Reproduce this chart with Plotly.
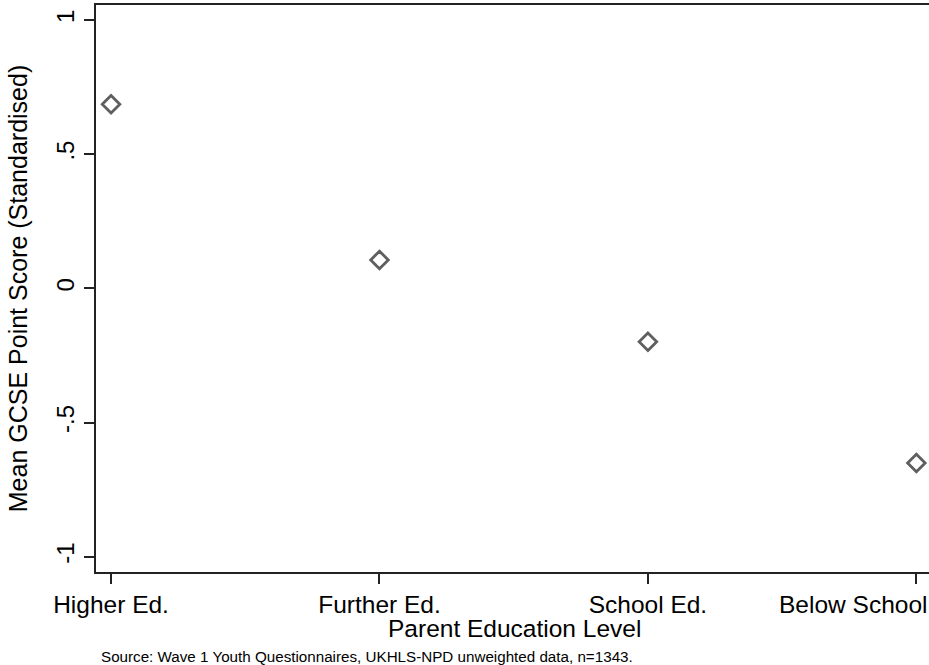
import plotly.graph_objects as go

# Parent education categories and mean standardised GCSE point scores
categories = ["Higher Ed.", "Further Ed.", "School Ed.", "Below School"]
positions = [1, 2, 3, 4]
mean_scores = [0.686, 0.106, -0.199, -0.651]

y_tickvals = [1, 0.5, 0, -0.5, -1]
y_ticktext = ["1", ".5", "0", "-.5", "-1"]

FONT = "Liberation Sans, Arial, sans-serif"
PLOT_W = 929 - 96
PLOT_H = 665 - 5 - 93

fig = go.Figure()
fig.add_trace(go.Scatter(
    x=positions,
    y=mean_scores,
    mode="markers",
    marker=dict(symbol="diamond-open", size=13.5, color="#5f5f5f",
                line=dict(width=2.8, color="#5f5f5f")),
    hoverinfo="x+y",
    showlegend=False,
))

# last category label sits flush with the right edge, so it is drawn as an annotation
tick_text_shown = categories[:-1] + [""]

fig.update_layout(
    width=929,
    height=665,
    margin=dict(l=96, r=0, t=5, b=93),
    paper_bgcolor="white",
    plot_bgcolor="white",
    font=dict(family=FONT, color="black", size=24),
    xaxis=dict(
        range=[0.944, 4.047],
        tickvals=positions,
        ticktext=tick_text_shown,
        ticks="outside",
        ticklen=10,
        tickwidth=1.5,
        tickcolor="#222",
        showgrid=False,
        zeroline=False,
        showline=True,
        linecolor="#222",
        linewidth=2,
        mirror=True,
        tickfont=dict(size=24.5),
    ),
    yaxis=dict(
        range=[-1.057, 1.056],
        tickvals=y_tickvals,
        ticktext=y_ticktext,
        tickangle=-90,
        ticks="outside",
        ticklen=10,
        tickwidth=1.5,
        tickcolor="#222",
        showgrid=False,
        zeroline=False,
        showline=True,
        linecolor="#222",
        linewidth=2,
        tickfont=dict(size=24),
        title=dict(text="Mean GCSE Point Score (Standardised)", font=dict(size=25), standoff=18),
    ),
    annotations=[
        dict(
            text=categories[-1],
            xref="paper", yref="paper",
            x=1.0, y=-(604 - 572) / PLOT_H,
            xanchor="right", yanchor="middle",
            showarrow=False,
            font=dict(size=24.5, color="black"),
        ),
        dict(
            text="Parent Education Level",
            xref="paper", yref="paper",
            x=(514 - 96) / PLOT_W, y=-(628 - 572) / PLOT_H,
            xanchor="center", yanchor="middle",
            showarrow=False,
            font=dict(size=24.5, color="black"),
        ),
        dict(
            text="Source: Wave 1 Youth Questionnaires, UKHLS-NPD unweighted data, n=1343.",
            xref="paper", yref="paper",
            x=(99 - 96) / PLOT_W, y=-(656 - 572) / PLOT_H,
            xanchor="left", yanchor="middle",
            showarrow=False,
            font=dict(size=15.2, color="black"),
        ),
    ],
)

fig.write_html("out.html")
